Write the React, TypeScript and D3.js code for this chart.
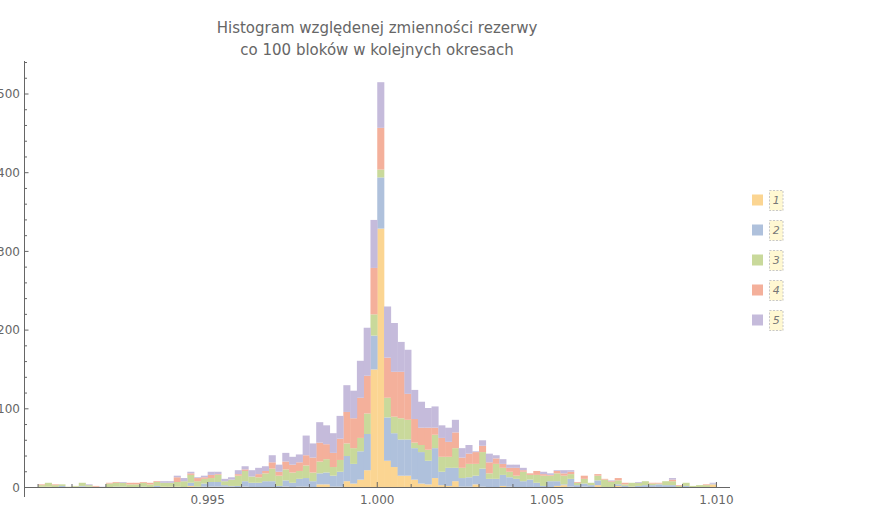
import * as d3 from "d3";

// histogram bins: 0.990 .. 1.010, width 0.0002 (100 bins)
const binStart = 0.99;
const binWidth = 0.0002;

// counts per bin, series 1..5 (stack order bottom -> top)
const series1 = [
  1, 1, 0, 0, 0, 1, 1, 0, 0, 0, 0, 0, 0, 0, 0, 0, 0, 0, 1, 1,
  1, 0, 2, 0, 1, 1, 1, 1, 1, 0, 1, 0, 0, 0, 0, 0, 1, 0, 1, 1,
  0, 4, 4, 1, 1, 8, 5, 10, 22, 150, 329, 34, 26, 15, 15, 10, 5, 4, 12, 3,
  2, 8, 1, 1, 4, 1, 0, 0, 2, 1, 0, 0, 0, 0, 0, 0, 2, 3, 1, 0,
  1, 0, 3, 0, 0, 2, 0, 0, 0, 0, 0, 0, 0, 0, 0, 0, 0, 0, 0, 4,
];
const series2 = [
  0, 0, 0, 2, 0, 0, 1, 1, 0, 0, 0, 1, 1, 0, 0, 1, 0, 2, 0, 0,
  0, 0, 4, 1, 4, 6, 6, 2, 1, 2, 7, 6, 6, 8, 8, 2, 8, 6, 10, 11,
  8, 14, 15, 14, 19, 32, 25, 36, 46, 43, 65, 55, 43, 46, 46, 40, 40, 30, 38, 17,
  23, 17, 11, 12, 11, 23, 11, 11, 14, 12, 11, 8, 10, 6, 2, 8, 6, 1, 10, 3,
  4, 3, 6, 0, 0, 2, 2, 1, 2, 3, 3, 4, 3, 3, 0, 2, 0, 0, 0, 1,
];
const series3 = [
  2, 5, 3, 2, 1, 1, 4, 2, 1, 0, 5, 5, 5, 4, 4, 5, 4, 5, 5, 5,
  6, 8, 10, 7, 6, 5, 9, 5, 8, 13, 13, 8, 7, 10, 16, 13, 14, 13, 10, 16,
  11, 15, 17, 11, 15, 16, 20, 17, 26, 27, 10, 25, 21, 27, 25, 7, 9, 14, 17, 19,
  14, 25, 13, 17, 15, 21, 7, 19, 9, 7, 4, 12, 6, 10, 13, 7, 10, 11, 6, 3,
  6, 3, 6, 10, 7, 5, 2, 5, 4, 5, 2, 1, 5, 5, 2, 4, 2, 3, 3, 0,
];
const series4 = [
  1, 0, 1, 0, 0, 0, 0, 0, 1, 0, 1, 1, 0, 2, 2, 1, 2, 1, 0, 0,
  6, 0, 2, 4, 2, 4, 1, 0, 0, 2, 2, 0, 4, 3, 8, 5, 10, 10, 11, 13,
  19, 24, 19, 18, 27, 40, 38, 51, 48, 59, 53, 51, 57, 59, 33, 30, 22, 28, 9, 24,
  19, 20, 13, 13, 15, 8, 14, 7, 5, 5, 10, 2, 2, 5, 2, 1, 3, 3, 3, 1,
  4, 0, 2, 1, 1, 3, 2, 0, 0, 0, 1, 1, 0, 2, 1, 0, 0, 0, 1, 0,
];
const series5 = [
  0, 0, 0, 0, 0, 0, 0, 1, 0, 1, 0, 0, 1, 0, 0, 0, 0, 0, 2, 2,
  2, 4, 2, 1, 2, 4, 3, 3, 3, 5, 4, 8, 8, 6, 9, 9, 11, 10, 10, 25,
  18, 26, 24, 25, 29, 34, 35, 47, 61, 61, 58, 65, 62, 38, 56, 37, 33, 25, 27, 16,
  18, 16, 12, 11, 1, 7, 11, 4, 6, 4, 4, 3, 0, 0, 3, 2, 1, 4, 2, 0,
  0, 0, 0, 0, 1, 0, 0, 0, 1, 0, 0, 0, 0, 2, 0, 0, 0, 0, 0, 1,
];

const seriesNames = ["1", "2", "3", "4", "5"];
const seriesColors = ["#fbd592", "#afc1dc", "#c9d99b", "#f4b09b", "#c5bbdb"];

const titleLines = [
  "Histogram względenej zmienności rezerwy",
  "co 100 bloków w kolejnych okresach",
];

const xTickMajor = [0.995, 1.0, 1.005, 1.01];
const yTickMajor = [0, 100, 200, 300, 400, 500];

const W = 885;
const H = 523;
const FONT = "'DejaVu Sans', sans-serif";

export default function App() {
  const x = d3.scaleLinear().domain([0.9896, 1.0104]).range([24.5, 730]);
  const y = d3.scaleLinear().domain([0, 500]).range([487.5, 94]);
  const yTop = 61;
  const yBottom = 497;

  const rows = series1.map((_, i) => ({
    x0: binStart + i * binWidth,
    s0: series1[i],
    s1: series2[i],
    s2: series3[i],
    s3: series4[i],
    s4: series5[i],
  }));
  const stacked = d3.stack<any>().keys(["s0", "s1", "s2", "s3", "s4"])(rows);

  const xMinor = d3.range(0, 21).map((k) => 0.99 + k * 0.001);
  const yMinor = d3.range(0, 28).map((k) => k * 20);

  return (
    <svg
      width={W}
      height={H}
      style={{ position: "absolute", left: 0, top: 0, background: "#fff" }}
    >
      {/* title */}
      {titleLines.map((t, i) => (
        <text
          key={t}
          x={377}
          y={33 + i * 22}
          textAnchor="middle"
          fontFamily={FONT}
          fontSize={15}
          fill="#666"
        >
          {t}
        </text>
      ))}

      {/* bars */}
      {stacked.map((layer, li) => (
        <g key={li} fill={seriesColors[li]}>
          {layer.map((d, i) =>
            d[1] > d[0] ? (
              <rect
                key={i}
                x={x(rows[i].x0)}
                width={x(rows[i].x0 + binWidth) - x(rows[i].x0) + 0.3}
                y={y(d[1])}
                height={y(d[0]) - y(d[1])}
              />
            ) : null
          )}
        </g>
      ))}

      {/* axes */}
      <g stroke="#666" strokeWidth={1} fill="none">
        <line x1={24.5} x2={24.5} y1={yTop} y2={yBottom} />
        <line x1={24.5} x2={730} y1={y(0)} y2={y(0)} />
        {xMinor.map((v) => {
          const major = xTickMajor.some((m) => Math.abs(m - v) < 1e-9);
          return (
            <line
              key={"xt" + v}
              x1={x(v)}
              x2={x(v)}
              y1={y(0)}
              y2={y(0) - (major ? 5.5 : 3.5)}
            />
          );
        })}
        {yMinor.map((v) => {
          const major = v % 100 === 0;
          return (
            <line
              key={"yt" + v}
              x1={24.5}
              x2={24.5 + (major ? 4 : 2.5)}
              y1={y(v)}
              y2={y(v)}
            />
          );
        })}
      </g>

      {/* tick labels */}
      <g fontFamily={FONT} fontSize={12} fill="#666">
        {xTickMajor.map((v) => (
          <text key={"xl" + v} x={x(v)} y={504} textAnchor="middle">
            {d3.format(".3f")(v)}
          </text>
        ))}
        {yTickMajor.map((v) => (
          <text
            key={"yl" + v}
            x={20}
            y={y(v)}
            dy="0.35em"
            textAnchor="end"
          >
            {v}
          </text>
        ))}
      </g>

      {/* legend */}
      {seriesNames.map((n, i) => {
        const cy = 200 + i * 30;
        return (
          <g key={"lg" + n}>
            <rect x={752} y={cy - 5.5} width={11} height={11} fill={seriesColors[i]} />
            <rect
              x={769.5}
              y={cy - 9.5}
              width={13.5}
              height={20}
              fill="#fff8d2"
              stroke="#c8c8c8"
              strokeDasharray="2,1.5"
            />
            <text
              x={776.3}
              y={cy}
              dy="0.4em"
              textAnchor="middle"
              fontFamily={FONT}
              fontStyle="italic"
              fontSize={11}
              fill="#777"
            >
              {n}
            </text>
          </g>
        );
      })}
    </svg>
  );
}
